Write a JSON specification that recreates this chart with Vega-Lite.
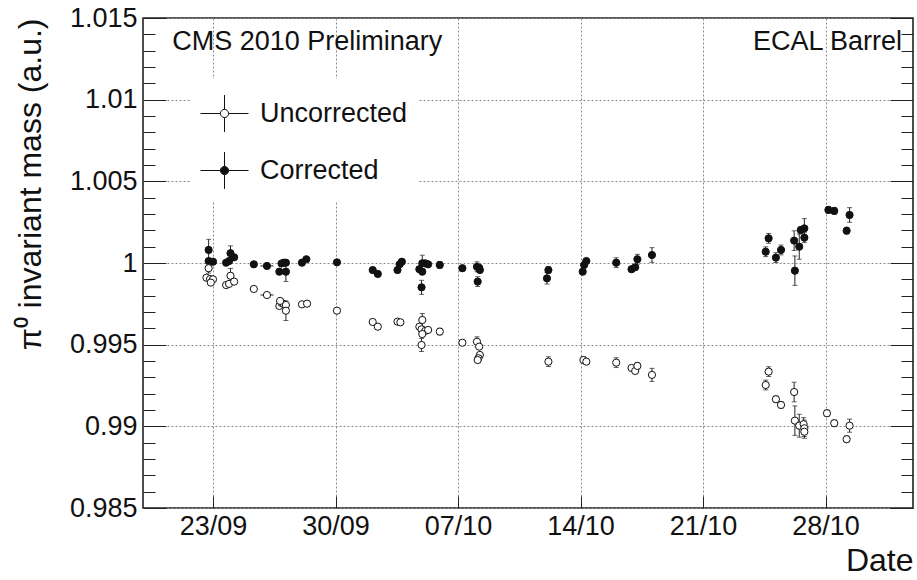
{
 "$schema": "https://vega.github.io/schema/vega-lite/v6.json",
 "width": 770, "height": 490,
 "autosize": {"type": "none"},
 "padding": {"left": 143, "top": 18, "right": 4, "bottom": 72},
 "background": "white",
 "config": {
  "font": "Liberation Sans",
  "view": {"stroke": "#222", "strokeWidth": 1.6},
  "axis": {"domain": false, "tickColor": "#222", "tickWidth": 1, "labelFont": "Liberation Sans", "labelColor": "#111", "titleColor": "#111", "titleFont": "Liberation Sans", "titleFontWeight": "normal", "labelFontSize": 27, "titleFontSize": 32}
 },
 "datasets": {
  "pts": [
   {"series":"Corrected","date":"2010-09-22T18:00:00Z","value":1.00080,"err":0.00065},
   {"series":"Corrected","date":"2010-09-22T18:00:00Z","value":1.00012,"err":0.00012},
   {"series":"Corrected","date":"2010-09-22T20:00:00Z","value":1.00008,"err":0.00012},
   {"series":"Corrected","date":"2010-09-23T00:00:00Z","value":1.00008,"err":0.00012},
   {"series":"Corrected","date":"2010-09-23T18:00:00Z","value":1.00002,"err":0.00012},
   {"series":"Corrected","date":"2010-09-23T22:00:00Z","value":1.00012,"err":0.00012},
   {"series":"Corrected","date":"2010-09-24T00:00:00Z","value":1.00060,"err":0.00045},
   {"series":"Corrected","date":"2010-09-24T05:00:00Z","value":1.00035,"err":0.00012},
   {"series":"Corrected","date":"2010-09-25T08:00:00Z","value":0.99992,"err":0.00012},
   {"series":"Corrected","date":"2010-09-26T02:00:00Z","value":0.99982,"err":0.00012},
   {"series":"Corrected","date":"2010-09-26T19:00:00Z","value":0.99947,"err":0.00012},
   {"series":"Corrected","date":"2010-09-26T22:00:00Z","value":0.99997,"err":0.00012},
   {"series":"Corrected","date":"2010-09-27T01:00:00Z","value":1.00002,"err":0.00012},
   {"series":"Corrected","date":"2010-09-27T04:00:00Z","value":1.00002,"err":0.00012},
   {"series":"Corrected","date":"2010-09-27T04:00:00Z","value":0.99947,"err":0.00060},
   {"series":"Corrected","date":"2010-09-28T02:00:00Z","value":1.00002,"err":0.00012},
   {"series":"Corrected","date":"2010-09-28T08:00:00Z","value":1.00023,"err":0.00012},
   {"series":"Corrected","date":"2010-09-30T02:00:00Z","value":1.00004,"err":0.00012},
   {"series":"Corrected","date":"2010-10-02T03:00:00Z","value":0.99957,"err":0.00012},
   {"series":"Corrected","date":"2010-10-02T10:00:00Z","value":0.99933,"err":0.00012},
   {"series":"Corrected","date":"2010-10-03T13:00:00Z","value":0.99957,"err":0.00012},
   {"series":"Corrected","date":"2010-10-03T16:00:00Z","value":0.99992,"err":0.00012},
   {"series":"Corrected","date":"2010-10-03T19:00:00Z","value":1.00008,"err":0.00012},
   {"series":"Corrected","date":"2010-10-04T19:00:00Z","value":0.99962,"err":0.00012},
   {"series":"Corrected","date":"2010-10-04T23:00:00Z","value":0.99998,"err":0.00050},
   {"series":"Corrected","date":"2010-10-05T03:00:00Z","value":0.99998,"err":0.00012},
   {"series":"Corrected","date":"2010-10-05T07:00:00Z","value":0.99992,"err":0.00012},
   {"series":"Corrected","date":"2010-10-04T23:00:00Z","value":0.99947,"err":0.00012},
   {"series":"Corrected","date":"2010-10-04T22:00:00Z","value":0.99851,"err":0.00043},
   {"series":"Corrected","date":"2010-10-05T23:00:00Z","value":0.99988,"err":0.00020},
   {"series":"Corrected","date":"2010-10-07T06:00:00Z","value":0.99968,"err":0.00012},
   {"series":"Corrected","date":"2010-10-08T02:00:00Z","value":0.99977,"err":0.00030},
   {"series":"Corrected","date":"2010-10-08T05:00:00Z","value":0.99971,"err":0.00012},
   {"series":"Corrected","date":"2010-10-08T06:00:00Z","value":0.99957,"err":0.00012},
   {"series":"Corrected","date":"2010-10-08T03:00:00Z","value":0.99886,"err":0.00030},
   {"series":"Corrected","date":"2010-10-12T04:00:00Z","value":0.99957,"err":0.00020},
   {"series":"Corrected","date":"2010-10-12T02:00:00Z","value":0.99906,"err":0.00035},
   {"series":"Corrected","date":"2010-10-14T03:00:00Z","value":0.99947,"err":0.00012},
   {"series":"Corrected","date":"2010-10-14T05:00:00Z","value":0.99988,"err":0.00012},
   {"series":"Corrected","date":"2010-10-14T08:00:00Z","value":1.00012,"err":0.00012},
   {"series":"Corrected","date":"2010-10-16T01:00:00Z","value":1.00002,"err":0.00030},
   {"series":"Corrected","date":"2010-10-16T22:00:00Z","value":0.99962,"err":0.00012},
   {"series":"Corrected","date":"2010-10-17T03:00:00Z","value":0.99974,"err":0.00012},
   {"series":"Corrected","date":"2010-10-17T06:00:00Z","value":1.00023,"err":0.00030},
   {"series":"Corrected","date":"2010-10-18T02:00:00Z","value":1.00049,"err":0.00045},
   {"series":"Corrected","date":"2010-10-24T14:00:00Z","value":1.00069,"err":0.00030},
   {"series":"Corrected","date":"2010-10-24T18:00:00Z","value":1.00151,"err":0.00030},
   {"series":"Corrected","date":"2010-10-25T04:00:00Z","value":1.00033,"err":0.00030},
   {"series":"Corrected","date":"2010-10-25T11:00:00Z","value":1.00080,"err":0.00030},
   {"series":"Corrected","date":"2010-10-26T05:00:00Z","value":1.00137,"err":0.00060},
   {"series":"Corrected","date":"2010-10-26T06:00:00Z","value":0.99953,"err":0.00090},
   {"series":"Corrected","date":"2010-10-26T12:00:00Z","value":1.00100,"err":0.00077},
   {"series":"Corrected","date":"2010-10-26T14:00:00Z","value":1.00202,"err":0.00020},
   {"series":"Corrected","date":"2010-10-26T19:00:00Z","value":1.00212,"err":0.00060},
   {"series":"Corrected","date":"2010-10-26T19:00:00Z","value":1.00155,"err":0.00030},
   {"series":"Corrected","date":"2010-10-28T04:00:00Z","value":1.00325,"err":0.00020},
   {"series":"Corrected","date":"2010-10-28T12:00:00Z","value":1.00319,"err":0.00020},
   {"series":"Corrected","date":"2010-10-29T05:00:00Z","value":1.00198,"err":0.00020},
   {"series":"Corrected","date":"2010-10-29T09:00:00Z","value":1.00294,"err":0.00045},
   {"series":"Uncorrected","date":"2010-09-22T18:00:00Z","value":0.99968,"err":0.00030},
   {"series":"Uncorrected","date":"2010-09-22T15:00:00Z","value":0.99910,"err":0.00012},
   {"series":"Uncorrected","date":"2010-09-22T20:00:00Z","value":0.99902,"err":0.00012},
   {"series":"Uncorrected","date":"2010-09-23T00:00:00Z","value":0.99900,"err":0.00012},
   {"series":"Uncorrected","date":"2010-09-22T21:00:00Z","value":0.99880,"err":0.00012},
   {"series":"Uncorrected","date":"2010-09-24T00:00:00Z","value":0.99922,"err":0.00045},
   {"series":"Uncorrected","date":"2010-09-23T18:00:00Z","value":0.99865,"err":0.00012},
   {"series":"Uncorrected","date":"2010-09-23T22:00:00Z","value":0.99872,"err":0.00012},
   {"series":"Uncorrected","date":"2010-09-24T05:00:00Z","value":0.99886,"err":0.00012},
   {"series":"Uncorrected","date":"2010-09-25T08:00:00Z","value":0.99841,"err":0.00012},
   {"series":"Uncorrected","date":"2010-09-26T02:00:00Z","value":0.99804,"err":0.00012},
   {"series":"Uncorrected","date":"2010-09-26T19:00:00Z","value":0.99737,"err":0.00012},
   {"series":"Uncorrected","date":"2010-09-26T22:00:00Z","value":0.99755,"err":0.00012},
   {"series":"Uncorrected","date":"2010-09-27T01:00:00Z","value":0.99749,"err":0.00012},
   {"series":"Uncorrected","date":"2010-09-27T04:00:00Z","value":0.99743,"err":0.00012},
   {"series":"Uncorrected","date":"2010-09-26T20:00:00Z","value":0.99768,"err":0.00012},
   {"series":"Uncorrected","date":"2010-09-27T04:00:00Z","value":0.99708,"err":0.00060},
   {"series":"Uncorrected","date":"2010-09-28T02:00:00Z","value":0.99747,"err":0.00012},
   {"series":"Uncorrected","date":"2010-09-28T09:00:00Z","value":0.99751,"err":0.00012},
   {"series":"Uncorrected","date":"2010-09-30T02:00:00Z","value":0.99708,"err":0.00012},
   {"series":"Uncorrected","date":"2010-10-02T03:00:00Z","value":0.99639,"err":0.00012},
   {"series":"Uncorrected","date":"2010-10-02T10:00:00Z","value":0.99610,"err":0.00012},
   {"series":"Uncorrected","date":"2010-10-03T13:00:00Z","value":0.99641,"err":0.00012},
   {"series":"Uncorrected","date":"2010-10-03T17:00:00Z","value":0.99637,"err":0.00012},
   {"series":"Uncorrected","date":"2010-10-04T23:00:00Z","value":0.99651,"err":0.00040},
   {"series":"Uncorrected","date":"2010-10-04T19:00:00Z","value":0.99610,"err":0.00012},
   {"series":"Uncorrected","date":"2010-10-04T22:00:00Z","value":0.99594,"err":0.00012},
   {"series":"Uncorrected","date":"2010-10-05T03:00:00Z","value":0.99584,"err":0.00012},
   {"series":"Uncorrected","date":"2010-10-05T07:00:00Z","value":0.99590,"err":0.00012},
   {"series":"Uncorrected","date":"2010-10-04T23:00:00Z","value":0.99565,"err":0.00012},
   {"series":"Uncorrected","date":"2010-10-04T22:00:00Z","value":0.99498,"err":0.00040},
   {"series":"Uncorrected","date":"2010-10-05T23:00:00Z","value":0.99580,"err":0.00020},
   {"series":"Uncorrected","date":"2010-10-07T06:00:00Z","value":0.99512,"err":0.00012},
   {"series":"Uncorrected","date":"2010-10-08T02:00:00Z","value":0.99518,"err":0.00030},
   {"series":"Uncorrected","date":"2010-10-08T05:00:00Z","value":0.99488,"err":0.00012},
   {"series":"Uncorrected","date":"2010-10-08T06:00:00Z","value":0.99437,"err":0.00012},
   {"series":"Uncorrected","date":"2010-10-08T04:00:00Z","value":0.99417,"err":0.00012},
   {"series":"Uncorrected","date":"2010-10-08T03:00:00Z","value":0.99406,"err":0.00012},
   {"series":"Uncorrected","date":"2010-10-12T04:00:00Z","value":0.99396,"err":0.00030},
   {"series":"Uncorrected","date":"2010-10-14T04:00:00Z","value":0.99406,"err":0.00020},
   {"series":"Uncorrected","date":"2010-10-14T08:00:00Z","value":0.99396,"err":0.00012},
   {"series":"Uncorrected","date":"2010-10-16T01:00:00Z","value":0.99390,"err":0.00030},
   {"series":"Uncorrected","date":"2010-10-16T22:00:00Z","value":0.99357,"err":0.00012},
   {"series":"Uncorrected","date":"2010-10-17T03:00:00Z","value":0.99339,"err":0.00012},
   {"series":"Uncorrected","date":"2010-10-17T06:00:00Z","value":0.99370,"err":0.00020},
   {"series":"Uncorrected","date":"2010-10-18T02:00:00Z","value":0.99315,"err":0.00040},
   {"series":"Uncorrected","date":"2010-10-24T18:00:00Z","value":0.99335,"err":0.00030},
   {"series":"Uncorrected","date":"2010-10-24T14:00:00Z","value":0.99253,"err":0.00030},
   {"series":"Uncorrected","date":"2010-10-25T04:00:00Z","value":0.99166,"err":0.00020},
   {"series":"Uncorrected","date":"2010-10-25T11:00:00Z","value":0.99131,"err":0.00020},
   {"series":"Uncorrected","date":"2010-10-26T05:00:00Z","value":0.99210,"err":0.00060},
   {"series":"Uncorrected","date":"2010-10-26T06:00:00Z","value":0.99035,"err":0.00090},
   {"series":"Uncorrected","date":"2010-10-26T12:00:00Z","value":0.99004,"err":0.00070},
   {"series":"Uncorrected","date":"2010-10-26T18:00:00Z","value":0.99013,"err":0.00040},
   {"series":"Uncorrected","date":"2010-10-26T19:00:00Z","value":0.98988,"err":0.00050},
   {"series":"Uncorrected","date":"2010-10-26T19:00:00Z","value":0.98967,"err":0.00040},
   {"series":"Uncorrected","date":"2010-10-28T02:00:00Z","value":0.99080,"err":0.00020},
   {"series":"Uncorrected","date":"2010-10-28T12:00:00Z","value":0.99019,"err":0.00020},
   {"series":"Uncorrected","date":"2010-10-29T05:00:00Z","value":0.98921,"err":0.00020},
   {"series":"Uncorrected","date":"2010-10-29T09:00:00Z","value":0.99004,"err":0.00040}
  ],
  "hbar": [
   {"series":"Corrected","start":"2010-09-25T17:00:00Z","end":"2010-09-26T11:00:00Z","value":0.99982},
   {"series":"Uncorrected","start":"2010-09-25T17:00:00Z","end":"2010-09-26T11:00:00Z","value":0.99804}
  ]
 },
 "resolve": {"axis": {"x": "independent", "y": "independent"}},
 "layer": [
  {
   "data": {"name": "pts"},
   "mark": {"type": "errorbar", "ticks": {"size": 5}, "color": "#222", "thickness": 1},
   "encoding": {
    "x": {"field": "date", "type": "temporal",
     "scale": {"type": "utc", "domain": [{"year": 2010, "month": 9, "date": 19, "utc": true}, {"year": 2010, "month": 11, "date": 2, "utc": true}]},
     "axis": {"orient": "bottom", "values": [{"year": 2010, "month": 9, "date": 23, "utc": true}, {"year": 2010, "month": 9, "date": 30, "utc": true}, {"year": 2010, "month": 10, "date": 7, "utc": true}, {"year": 2010, "month": 10, "date": 14, "utc": true}, {"year": 2010, "month": 10, "date": 21, "utc": true}, {"year": 2010, "month": 10, "date": 28, "utc": true}],
      "labelExpr": "utcFormat(datum.value, '%d/%m')", "tickSize": -12, "labelPadding": 17, "labelFlush": false,
      "grid": true, "gridDash": [2, 2], "gridColor": "#888", "gridWidth": 1,
      "title": "Date", "titleAnchor": "end", "titlePadding": 6}},
    "y": {"field": "value", "type": "quantitative",
     "scale": {"domain": [0.985, 1.015], "nice": false, "zero": false},
     "axis": {"orient": "left", "values": [0.985, 0.99, 0.995, 1, 1.005, 1.01, 1.015], "format": ".3~f",
      "tickSize": -23, "labelPadding": 29, "labelFlush": false,
      "grid": true, "gridDash": [2, 2], "gridColor": "#888", "gridWidth": 1,
      "title": "π⁰ invariant mass (a.u.)", "titleAnchor": "end", "titlePadding": 22}},
    "yError": {"field": "err"}
   }
  },
  {
   "data": {"name": "hbar"},
   "mark": {"type": "rule", "color": "#222", "strokeWidth": 1},
   "encoding": {
    "x": {"field": "start", "type": "temporal", "axis": null},
    "x2": {"field": "end"},
    "y": {"field": "value", "type": "quantitative", "axis": {"orient": "right", "values": [0.986, 0.987, 0.988, 0.989, 0.991, 0.992, 0.993, 0.994, 0.996, 0.997, 0.998, 0.999, 1.001, 1.002, 1.003, 1.004, 1.006, 1.007, 1.008, 1.009, 1.011, 1.012, 1.013, 1.014], "tickSize": -12, "labels": false, "grid": false, "title": null}}
   }
  },
  {
   "data": {"name": "pts"},
   "mark": {"type": "point", "filled": false, "size": 52, "stroke": "#111", "strokeWidth": 1, "opacity": 1},
   "encoding": {
    "x": {"field": "date", "type": "temporal", "axis": null},
    "y": {"field": "value", "type": "quantitative", "axis": {"orient": "left", "values": [0.986, 0.987, 0.988, 0.989, 0.991, 0.992, 0.993, 0.994, 0.996, 0.997, 0.998, 0.999, 1.001, 1.002, 1.003, 1.004, 1.006, 1.007, 1.008, 1.009, 1.011, 1.012, 1.013, 1.014], "tickSize": -12, "labels": false, "grid": false, "title": null}},
    "fill": {"field": "series", "type": "nominal",
     "scale": {"domain": ["Uncorrected", "Corrected"], "range": ["white", "#111"]},
     "legend": {"title": null, "orient": "none", "legendX": 47, "legendY": 61,
      "symbolType": "M-1,0L-0.17,0M0.17,0L1,0M0,-0.77L0,-0.17M0,0.17L0,0.77M-0.17,0A0.17,0.17,0,1,1,0.17,0A0.17,0.17,0,1,1,-0.17,0Z",
      "symbolSize": 2304, "symbolStrokeColor": "#111", "symbolStrokeWidth": 1, "symbolOpacity": 1,
      "labelFontSize": 27, "labelFont": "Liberation Sans", "labelColor": "#111", "labelOffset": 11, "labelLimit": 300,
      "rowPadding": 12, "fillColor": "white", "padding": 10}}
   }
  },
  {
   "data": {"values": [{"label": "CMS 2010 Preliminary", "date": "2010-09-20T16:00:00Z", "value": 1.01304}]},
   "mark": {"type": "text", "align": "left", "baseline": "alphabetic", "fontSize": 27, "font": "Liberation Sans", "color": "#111"},
   "encoding": {
    "x": {"field": "date", "type": "temporal", "axis": null},
    "y": {"field": "value", "type": "quantitative", "axis": {"orient": "right", "values": [0.985, 0.99, 0.995, 1, 1.005, 1.01, 1.015], "tickSize": -23, "labels": false, "grid": false, "title": null}},
    "text": {"field": "label"}
   }
  },
  {
   "data": {"values": [{"label": "ECAL Barrel", "date": "2010-11-01T09:00:00Z", "value": 1.01304}]},
   "mark": {"type": "text", "align": "right", "baseline": "alphabetic", "fontSize": 27, "font": "Liberation Sans", "color": "#111"},
   "encoding": {
    "x": {"field": "date", "type": "temporal", "axis": null},
    "y": {"field": "value", "type": "quantitative", "axis": null},
    "text": {"field": "label"}
   }
  }
 ]
}
